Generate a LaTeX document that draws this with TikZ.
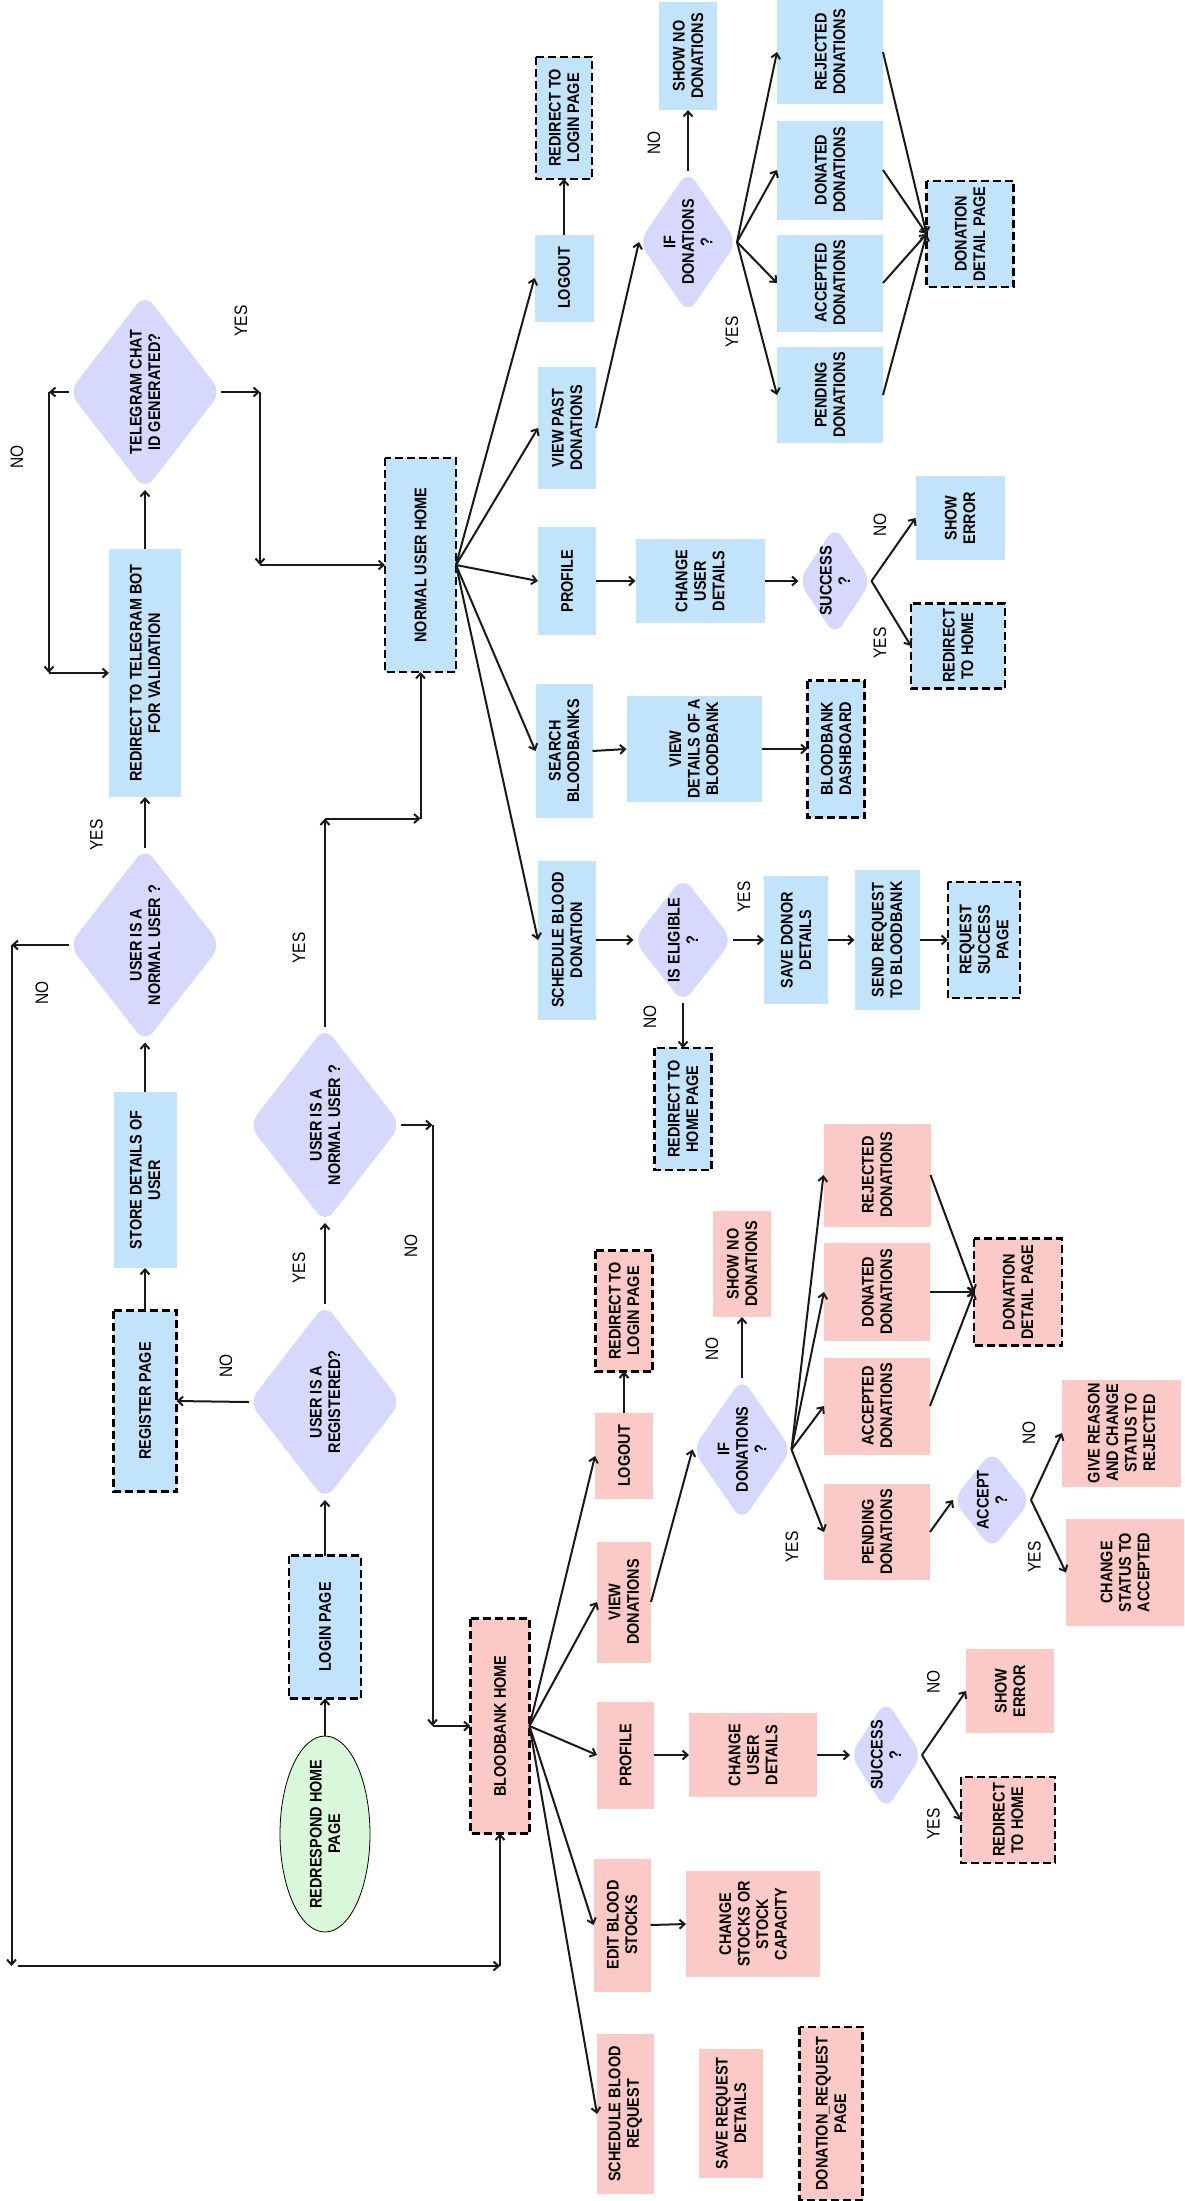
\documentclass[tikz,border=0pt]{standalone}
\usepackage{fontspec}
\setmainfont{Liberation Sans}[FakeStretch=0.86]
\usetikzlibrary{arrows.meta,shapes.geometric}
\definecolor{bluF}{RGB}{193,228,251}
\definecolor{pnkF}{RGB}{251,202,199}
\definecolor{lavF}{RGB}{214,217,251}
\definecolor{grnF}{RGB}{217,248,218}
\newcommand{\boxfont}{\fontsize{16.8}{18.5}\selectfont\bfseries}
\newcommand{\lblfont}{\fontsize{18}{20}\selectfont}
\begin{document}
\begin{tikzpicture}[x=1pt,y=-1pt,
  base/.style={rotate=90, inner sep=0pt, outer sep=0pt, align=center, font=\boxfont, text=black},
  sz/.style 2 args={minimum width=#2, minimum height=#1},
  bbox/.style={base, rectangle, fill=bluF},
  pbox/.style={base, rectangle, fill=pnkF},
  dsh/.style={draw=black, line width=2.2pt, dash pattern=on 8pt off 4pt},
  dia/.style={base, diamond, fill=lavF, rounded corners=13pt},
  txt/.style={base},
  yn/.style={rotate=90, inner sep=0pt, font=\lblfont},
  arr/.style={draw=black!90, line width=2pt, -{Straight Barb[length=5pt,width=9pt]}},
]
\fill[white] (0,0) rectangle (1184,2201);
\useasboundingbox (0,0) rectangle (1184,2201);

% ---------- left / login part ----------
\node[bbox, sz={72pt}{248pt}] (tg) at (145,673) {REDIRECT TO TELEGRAM BOT\\FOR VALIDATION};
\node[dia, sz={152pt}{196pt}] (tgd) at (145,392) {};
\node[txt] (tgdT) at (tgd) {TELEGRAM CHAT\\ID GENERATED?};
\node[dia, sz={152pt}{195pt}] (nu1) at (145,945) {};
\node[txt] (nu1T) at (nu1) {USER IS A\\NORMAL USER ?};
\node[bbox, sz={63pt}{176pt}] (sdu) at (145,1180) {STORE DETAILS OF\\USER};
\node[bbox, dsh, sz={63pt}{181pt}] (reg) at (145,1401) {REGISTER PAGE};
\node[dia, sz={152pt}{196pt}] (urd) at (325,1402) {};
\node[txt] (urdT) at (urd) {USER IS A\\REGISTERED?};
\node[dia, sz={152pt}{196pt}] (nu2) at (325,1125) {};
\node[txt] (nu2T) at (nu2) {USER IS A\\NORMAL USER ?};
\node[bbox, dsh, sz={72pt}{143pt}] (lgn) at (325,1627) {LOGIN PAGE};
\node[base, ellipse, draw=black, line width=0.8pt, fill=grnF, sz={90pt}{196pt}] (home) at (325,1834) {};
\node[txt] (homeT) at (home) {REDRESPOND HOME\\PAGE};

% ---------- normal user part ----------
\node[bbox, dsh, sz={71pt}{214pt}] (nuh) at (420.5,565) {NORMAL USER HOME};
\node[bbox, sz={59pt}{87pt}] (lo1) at (564,278) {LOGOUT};
\node[bbox, dsh, sz={56pt}{122pt}] (rl1) at (564,118) {REDIRECT TO\\LOGIN PAGE};
\node[bbox, sz={58pt}{122pt}] (vpd) at (567,428) {VIEW PAST\\DONATIONS};
\node[bbox, sz={58pt}{108pt}] (pr1) at (567,581) {PROFILE};
\node[bbox, sz={57pt}{134pt}] (sb) at (564,751) {SEARCH\\BLOODBANKS};
\node[bbox, sz={58pt}{159pt}] (sbd) at (567,940) {SCHEDULE BLOOD\\DONATION};
\node[bbox, sz={58pt}{108pt}] (snd1) at (688,56) {SHOW NO\\DONATIONS};
\node[dia, sz={98pt}{143pt}] (ifd1) at (688,242) {};
\node[txt] (ifd1T) at (ifd1) {IF\\DONATIONS\\?};
\node[bbox, sz={106pt}{104pt}] (rej1) at (830,52) {REJECTED\\DONATIONS};
\node[bbox, sz={106pt}{99pt}] (don1) at (830,170) {DONATED\\DONATIONS};
\node[bbox, sz={106pt}{97pt}] (acc1) at (830,283) {ACCEPTED\\DONATIONS};
\node[bbox, sz={106pt}{96pt}] (pen1) at (830,395) {PENDING\\DONATIONS};
\node[bbox, dsh, sz={87pt}{106pt}] (ddp1) at (970,234) {DONATION\\DETAIL PAGE};
\node[bbox, sz={129pt}{84pt}] (cud1) at (700,581) {CHANGE\\USER\\DETAILS};
\node[dia, sz={73pt}{110pt}] (suc1) at (835,581) {};
\node[txt] (suc1T) at (suc1) {SUCCESS\\?};
\node[bbox, sz={89pt}{84pt}] (se1) at (960,518) {SHOW\\ERROR};
\node[bbox, dsh, sz={94pt}{85pt}] (rh1) at (958,646) {REDIRECT\\TO HOME};
\node[bbox, sz={135pt}{106pt}] (vdb) at (694,749) {VIEW\\DETAILS OF A\\BLOODBANK};
\node[bbox, dsh, sz={57pt}{137pt}] (bdb) at (836,749) {BLOODBANK\\DASHBOARD};
\node[dia, sz={99pt}{126pt}] (ise) at (683,940) {};
\node[txt] (iseT) at (ise) {IS ELIGIBLE\\?};
\node[bbox, sz={64pt}{128pt}] (sdd) at (796,940) {SAVE DONOR\\DETAILS};
\node[bbox, sz={65pt}{140pt}] (srb) at (887,940) {SEND REQUEST\\TO BLOODBANK};
\node[bbox, dsh, sz={72pt}{116pt}] (rsp) at (984,940) {REQUEST\\SUCCESS\\PAGE};
\node[bbox, dsh, sz={57pt}{122pt}] (rhp) at (683,1109) {REDIRECT TO\\HOME PAGE};

% ---------- bloodbank part ----------
\node[pbox, dsh, sz={59pt}{215pt}] (bbh) at (500,1726) {BLOODBANK HOME};
\node[pbox, dsh, sz={57pt}{121pt}] (rl2) at (624,1311) {REDIRECT TO\\LOGIN PAGE};
\node[pbox, sz={58pt}{86pt}] (lo2) at (624,1456) {LOGOUT};
\node[pbox, sz={58pt}{106pt}] (snd2) at (742,1264) {SHOW NO\\DONATIONS};
\node[dia, sz={99pt}{143pt}] (ifd2) at (742,1449.5) {};
\node[txt] (ifd2T) at (ifd2) {IF\\DONATIONS\\?};
\node[pbox, sz={107pt}{103pt}] (rej2) at (877,1175) {REJECTED\\DONATIONS};
\node[pbox, sz={106pt}{98pt}] (don2) at (877,1292) {DONATED\\DONATIONS};
\node[pbox, sz={106pt}{97pt}] (acc2) at (877,1406) {ACCEPTED\\DONATIONS};
\node[pbox, dsh, sz={88pt}{107pt}] (ddp2) at (1018,1292) {DONATION\\DETAIL PAGE};
\node[pbox, sz={106pt}{96pt}] (pen2) at (877,1532) {PENDING\\DONATIONS};
\node[dia, sz={78pt}{99pt}] (acd) at (992,1500) {};
\node[txt] (acdT) at (acd) {ACCEPT\\?};
\node[pbox, sz={119pt}{107pt}] (grr) at (1121.5,1433) {GIVE REASON\\AND CHANGE\\STATUS TO\\REJECTED};
\node[pbox, sz={118pt}{107pt}] (csa) at (1125,1572.5) {CHANGE\\STATUS TO\\ACCEPTED};
\node[pbox, sz={54pt}{121pt}] (vd2) at (624,1602) {VIEW\\DONATIONS};
\node[pbox, sz={57pt}{107pt}] (pr2) at (625.5,1755) {PROFILE};
\node[pbox, sz={128pt}{84pt}] (cud2) at (753,1755) {CHANGE\\USER\\DETAILS};
\node[dia, sz={72pt}{110pt}] (suc2) at (886,1755) {};
\node[txt] (suc2T) at (suc2) {SUCCESS\\?};
\node[pbox, sz={88pt}{84pt}] (se2) at (1010,1691) {SHOW\\ERROR};
\node[pbox, dsh, sz={94pt}{86pt}] (rh2) at (1008,1820) {REDIRECT\\TO HOME};
\node[pbox, sz={57pt}{133pt}] (ebs) at (622,1925) {EDIT BLOOD\\STOCKS};
\node[pbox, sz={134pt}{106pt}] (csc) at (753,1924) {CHANGE\\STOCKS OR\\STOCK\\CAPACITY};
\node[pbox, sz={57pt}{160pt}] (sbr) at (625.5,2114) {SCHEDULE BLOOD\\REQUEST};
\node[pbox, sz={64pt}{129pt}] (srd) at (731,2113.5) {SAVE REQUEST\\DETAILS};
\node[pbox, dsh, sz={63pt}{173pt}] (drp) at (831,2113.5) {DONATION\_REQUEST\\PAGE};

% ---------- YES / NO labels ----------
\node[yn] (l1) at (17,457) {NO};
\node[yn] (l2) at (241,321) {YES};
\node[yn] (l3) at (96.5,835) {YES};
\node[yn] (l4) at (42,993) {NO};
\node[yn] (l5) at (299,948) {YES};
\node[yn] (l6) at (299,1268) {YES};
\node[yn] (l7) at (226,1366) {NO};
\node[yn] (l8) at (411,1246) {NO};
\node[yn] (l9) at (654,143) {NO};
\node[yn] (l10) at (732,332) {YES};
\node[yn] (l11) at (880,525) {NO};
\node[yn] (l12) at (880,643) {YES};
\node[yn] (l13) at (744,897) {YES};
\node[yn] (l14) at (650,1017) {NO};
\node[yn] (l15) at (712,1349) {NO};
\node[yn] (l16) at (792,1547) {YES};
\node[yn] (l17) at (1029,1433) {NO};
\node[yn] (l18) at (1034.5,1557) {YES};
\node[yn] (l19) at (933.5,1682) {NO};
\node[yn] (l20) at (933.5,1824) {YES};

% ---------- corner coordinates ----------
\coordinate (c1) at (260,392);
\coordinate (c2) at (260,565);
\coordinate (c3) at (49,392);
\coordinate (c4) at (49,673);
\coordinate (c5) at (11.5,945);
\coordinate (c6) at (11.5,1966);
\coordinate (c7) at (500,1966);
\coordinate (c8) at (325,818.5);
\coordinate (c9) at (420.5,818.5);
\coordinate (c10) at (432.5,1125);
\coordinate (c11) at (432.5,1726);

% ---------- connectors ----------
\draw[arr] (home.east) -- (lgn.west);
\draw[arr] (lgn.east) -- (urd.west);
\draw[arr] (urd.north) -- (reg.south);
\draw[arr] (urd.east) -- (nu2.west);
\draw[arr] (reg.east) -- (sdu.west);
\draw[arr] (sdu.east) -- (nu1.west);
\draw[arr] (nu1.east) -- (tg.west);
\draw[arr] (tg.east) -- (tgd.west);
\draw[arr] (tgd.south) -- (c1);
\draw[arr] (c1) -- (c2);
\draw[arr] (c2) -- (nuh.north);
\draw[arr] (tgd.north) -- (c3);
\draw[arr] (c3) -- (c4);
\draw[arr] (c4) -- (tg.north);
\draw[arr] (nu1.north) -- (c5);
\draw[arr] (c5) -- (c6);
\draw[arr] ([xshift=6pt]c6) -- (c7);
\draw[arr] (c7) -- (bbh.west);
\draw[arr] (nu2.east) -- (c8);
\draw[arr] (c8) -- (c9);
\draw[arr] (c9) -- (nuh.west);
\draw[arr] (nu2.south) -- (c10);
\draw[arr] (c10) -- (c11);
\draw[arr] (c11) -- (bbh.north);

\foreach \t in {lo1,vpd,pr1,sb,sbd} \draw[arr] (nuh.south) -- (\t.north);
\draw[arr] (lo1.east) -- (rl1.west);
\draw[arr] (vpd.south) -- (ifd1.north);
\draw[arr] (ifd1.east) -- (snd1.west);
\foreach \t in {rej1,don1,acc1,pen1} {
  \draw[arr] (ifd1.south) -- (\t.north);
  \draw[arr] (\t.south) -- (ddp1.north);
}
\draw[arr] (pr1.south) -- (cud1.north);
\draw[arr] (cud1.south) -- (suc1.north);
\draw[arr] (suc1.south) -- (se1.north);
\draw[arr] (suc1.south) -- (rh1.north);
\draw[arr] (sb.south) -- (vdb.north);
\draw[arr] (vdb.south) -- (bdb.north);
\draw[arr] (sbd.south) -- (ise.north);
\draw[arr] (ise.south) -- (sdd.north);
\draw[arr] (sdd.south) -- (srb.north);
\draw[arr] (srb.south) -- (rsp.north);
\draw[arr] (ise.west) -- (rhp.east);

\foreach \t in {lo2,vd2,pr2,ebs,sbr} \draw[arr] (bbh.south) -- (\t.north);
\draw[arr] (lo2.east) -- (rl2.west);
\draw[arr] (vd2.south) -- (ifd2.north);
\draw[arr] (ifd2.east) -- (snd2.west);
\foreach \t in {rej2,don2,acc2,pen2} \draw[arr] (ifd2.south) -- (\t.north);
\foreach \t in {rej2,don2,acc2} \draw[arr] (\t.south) -- (ddp2.north);
\draw[arr] (pen2.south) -- (acd.north);
\draw[arr] (acd.south) -- (grr.north);
\draw[arr] (acd.south) -- (csa.north);
\draw[arr] (pr2.south) -- (cud2.north);
\draw[arr] (cud2.south) -- (suc2.north);
\draw[arr] (suc2.south) -- (se2.north);
\draw[arr] (suc2.south) -- (rh2.north);
\draw[arr] (ebs.south) -- (csc.north);
\end{tikzpicture}
\end{document}
